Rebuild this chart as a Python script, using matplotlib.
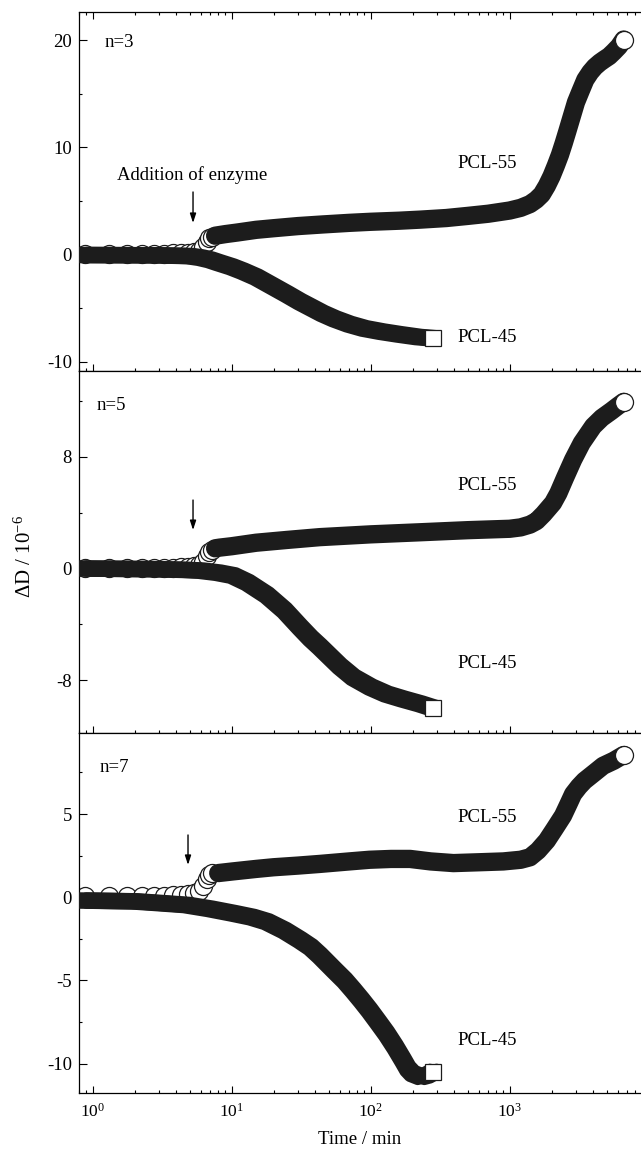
import matplotlib
matplotlib.use("Agg")
import matplotlib.pyplot as plt
import matplotlib.patheffects as pe
from matplotlib.ticker import LogLocator, MultipleLocator, FixedLocator, NullFormatter

plt.rcParams["font.family"] = ["Liberation Serif", "DejaVu Serif"]
plt.rcParams["mathtext.fontset"] = "custom"
plt.rcParams["mathtext.rm"] = "Liberation Serif"
plt.rcParams["mathtext.it"] = "Liberation Serif:italic"
plt.rcParams["axes.unicode_minus"] = False

# ---------------- data: time (min) and dissipation shift (1e-6) ----------------
# n = 3
t55_n3 = [0.88, 1.30, 1.76, 2.25, 2.76, 3.26, 3.76, 4.29, 4.82, 5.35, 5.85, 6.25, 6.6, 6.9, 7.2,
          7.6, 9, 11, 15, 20, 30, 45, 70, 100, 160, 227, 350, 500, 700, 1000, 1200, 1400,
          1550, 1700, 1850, 2000, 2150, 2300, 2450, 2600, 2800, 3000, 3250, 3500, 3800, 4100,
          4450, 4800, 5200, 5600, 6100, 6600]
d55_n3 = [0.08, 0.08, 0.08, 0.08, 0.08, 0.08, 0.1, 0.12, 0.15, 0.2, 0.3, 0.7, 1.2, 1.5, 1.65,
          1.75, 1.9, 2.05, 2.3, 2.45, 2.65, 2.8, 2.95, 3.05, 3.15, 3.25, 3.4, 3.6, 3.8, 4.1,
          4.35, 4.7, 5.1, 5.6, 6.4, 7.3, 8.3, 9.3, 10.4, 11.5, 12.9, 14.2, 15.3, 16.3, 17.0,
          17.5, 17.9, 18.2, 18.5, 18.9, 19.4, 20.05]
t45_n3 = [0.85, 3, 5, 6, 7, 8, 10, 12, 15, 20, 25, 31, 38, 45, 55, 70, 90, 120, 160, 220, 282]
d45_n3 = [-0.05, -0.08, -0.15, -0.3, -0.5, -0.75, -1.15, -1.55, -2.1, -3.0, -3.7, -4.4, -5.0,
          -5.5, -6.0, -6.5, -6.9, -7.2, -7.45, -7.7, -7.82]

# n = 5
t55_n5 = [0.88, 1.30, 1.76, 2.25, 2.76, 3.26, 3.76, 4.29, 4.82, 5.35, 5.85, 6.25, 6.6, 6.9, 7.2,
          7.6, 8.2, 10, 15, 25, 43, 100, 227, 500, 1000, 1200, 1400, 1560, 1750, 2050, 2240,
          2500, 2860, 3300, 3990, 4600, 5400, 6000, 6600]
d55_n5 = [0.05, 0.05, 0.05, 0.05, 0.05, 0.05, 0.07, 0.1, 0.12, 0.17, 0.25, 0.5, 0.9, 1.2, 1.35,
          1.45, 1.5, 1.6, 1.85, 2.05, 2.25, 2.45, 2.6, 2.75, 2.85, 2.95, 3.15, 3.4, 3.9, 4.7,
          5.4, 6.5, 7.8, 9.0, 10.2, 10.8, 11.3, 11.65, 11.95]
t45_n5 = [0.85, 3, 4.7, 6, 8, 10.2, 13, 17.9, 24, 31, 37, 43, 52, 60, 75, 100, 130, 170, 227,
          282]
d45_n5 = [0.0, -0.05, -0.1, -0.15, -0.3, -0.5, -1.0, -1.9, -3.0, -4.2, -5.0, -5.6, -6.4, -7.0,
          -7.8, -8.5, -9.0, -9.35, -9.7, -10.0]

# n = 7
t55_n7 = [0.88, 1.30, 1.76, 2.25, 2.76, 3.26, 3.76, 4.29, 4.82, 5.35, 5.85, 6.25, 6.6, 6.9, 7.2,
          8, 10.2, 15, 20, 30, 43, 70, 98, 140, 192, 270, 394, 600, 900, 1200, 1400, 1600,
          1850, 2100, 2420, 2650, 2860, 3150, 3450, 4100, 4700, 5600, 6600]
d55_n7 = [0.08, 0.08, 0.08, 0.08, 0.08, 0.1, 0.12, 0.15, 0.2, 0.25, 0.35, 0.7, 1.1, 1.35, 1.45,
          1.45, 1.55, 1.7, 1.8, 1.9, 2.0, 2.15, 2.25, 2.3, 2.3, 2.15, 2.05, 2.1, 2.15, 2.25,
          2.4, 2.8, 3.4, 4.1, 4.9, 5.6, 6.2, 6.65, 7.0, 7.5, 7.9, 8.2, 8.55]
t45_n7 = [0.85, 2, 3, 4.75, 7, 10.3, 14, 17.9, 24, 31, 37, 43, 55, 65, 75, 86, 98, 113, 130,
          150, 171, 185, 200, 230, 255, 282]
d45_n7 = [-0.2, -0.25, -0.35, -0.47, -0.7, -0.97, -1.2, -1.47, -2.0, -2.57, -3.0, -3.5, -4.4,
          -5.0, -5.6, -6.2, -6.8, -7.5, -8.2, -9.0, -9.8, -10.3, -10.6, -10.8, -10.7, -10.5]

# number of leading PCL-55 points that stand apart as single circles
n_sparse = [15, 15, 15]

panel_labels = ["n=3", "n=5", "n=7"]
series_labels = ["PCL-55", "PCL-45"]
time_label = "Time / min"
value_label = "ΔD / 10$^{-6}$"
enzyme_note = "Addition of enzyme"

# ---------------- layout ----------------
W, H = 641, 1151
fig = plt.figure(figsize=(W / 100, H / 100), dpi=100)

def frame(top_px, bot_px, left_px=79, right_px=641):
    return [left_px / W, 1 - bot_px / H, (right_px - left_px) / W, (bot_px - top_px) / H]

rects = [frame(12, 371), frame(371, 733), frame(733, 1093)]
ylims = [(-10.87, 22.62), (-11.79, 14.16), (-11.77, 9.87)]
major_y = [[-10, 0, 10, 20], [-8, 0, 8], [-10, -5, 0, 5]]
minor_step = [5, 4, 2.5]
xlim = (0.797, 8805)

# text placement in axes fraction
tag_pos = [(0.046, 0.914), (0.032, 0.906), (0.037, 0.903)]
p55_pos = [(0.674, 0.579), (0.674, 0.685), (0.674, 0.764)]
p45_pos = [(0.674, 0.092), (0.674, 0.193), (0.674, 0.147)]
# enzyme arrows (data coordinates: x, y_tail, y_head)
arrows = [(5.27, 5.83, 2.94), (5.27, 4.91, 2.76), (4.85, 3.74, 1.94)]

INK = "#1c1c1c"
FS = 13.5
CIRCLE_MS = 13.0
SQUARE_MS = 11.0

# A trail of overlapping square markers: a stroke swept by four offset copies
# gives the boxy outline that a run of squares leaves behind.
sq_side = SQUARE_MS + 0.9
sq_w = 0.6 * sq_side
sq_a = 0.2 * sq_side
square_trail = [pe.Stroke(offset=(dx, dy), linewidth=sq_w, foreground=INK)
                for dx in (-sq_a, sq_a) for dy in (-sq_a, sq_a)] + [pe.Normal()]

series = [
    (t55_n3, d55_n3, t45_n3, d45_n3),
    (t55_n5, d55_n5, t45_n5, d45_n5),
    (t55_n7, d55_n7, t45_n7, d45_n7),
]

for i, (rect, (t55, d55, t45, d45)) in enumerate(zip(rects, series)):
    ax = fig.add_axes(rect)
    ax.set_xscale("log")
    ax.set_xlim(*xlim)
    ax.set_ylim(*ylims[i])
    ns = n_sparse[i]

    # early, well separated circles
    ax.plot(t55[:ns], d55[:ns], ls="none", marker="o", ms=CIRCLE_MS, mfc="white", mec=INK,
            mew=0.9, zorder=2)
    # dense PCL-45 record: overlapping squares merge into a solid band
    ax.plot(t45, d45, color=INK, lw=sq_w, solid_capstyle="round", solid_joinstyle="round",
            path_effects=square_trail, zorder=3)
    # dense PCL-55 record after the enzyme step
    ax.plot(t55[ns:], d55[ns:], color=INK, lw=CIRCLE_MS + 0.2, solid_capstyle="round",
            solid_joinstyle="round", zorder=4)
    # last recorded points
    ax.plot(t45[-1:], d45[-1:], ls="none", marker="s", ms=SQUARE_MS, mfc="white", mec=INK,
            mew=0.9, zorder=5)
    ax.plot(t55[-1:], d55[-1:], ls="none", marker="o", ms=CIRCLE_MS, mfc="white", mec=INK,
            mew=0.9, zorder=5)

    # ticks
    ax.yaxis.set_major_locator(FixedLocator(major_y[i]))
    ax.yaxis.set_minor_locator(MultipleLocator(minor_step[i]))
    ax.xaxis.set_major_locator(LogLocator(base=10, numticks=10))
    ax.xaxis.set_minor_locator(LogLocator(base=10, subs=range(2, 10), numticks=20))
    ax.xaxis.set_minor_formatter(NullFormatter())
    ax.tick_params(axis="y", which="major", direction="in", length=6, width=0.8,
                   labelsize=13.5, pad=5, right=False)
    ax.tick_params(axis="y", which="minor", direction="in", length=2.5, width=0.8, right=False)
    ax.tick_params(axis="x", which="major", direction="in", length=5, width=0.8,
                   labelsize=12.5, pad=7, top=(i == 0))
    ax.tick_params(axis="x", which="minor", direction="in", length=2.5, width=0.8,
                   top=(i == 0))
    if i < 2:
        ax.tick_params(axis="x", labelbottom=False)
    for s in ax.spines.values():
        s.set_linewidth(0.9)
    ax.spines["right"].set_visible(False)

    ax.text(*tag_pos[i], panel_labels[i], transform=ax.transAxes, fontsize=FS,
            ha="left", va="center")
    ax.text(*p55_pos[i], series_labels[0], transform=ax.transAxes, fontsize=FS,
            ha="left", va="center")
    ax.text(*p45_pos[i], series_labels[1], transform=ax.transAxes, fontsize=FS,
            ha="left", va="center")
    ax_x, y0, y1 = arrows[i]
    ax.annotate("", xy=(ax_x, y1), xytext=(ax_x, y0),
                arrowprops=dict(arrowstyle="-|>,head_length=0.55,head_width=0.18",
                                color="black", lw=1.0, shrinkA=0, shrinkB=0), zorder=6)
    if i == 0:
        ax.text(0.201, 0.546, enzyme_note, transform=ax.transAxes, fontsize=FS,
                ha="center", va="center")

fig.text(360 / W, 1 - 1140 / H, time_label, ha="center", va="center", fontsize=FS)
fig.text(25 / W, 1 - 557 / H, value_label, ha="center", va="center", rotation=90,
         fontsize=15)

fig.savefig("out.png", dpi=100)
